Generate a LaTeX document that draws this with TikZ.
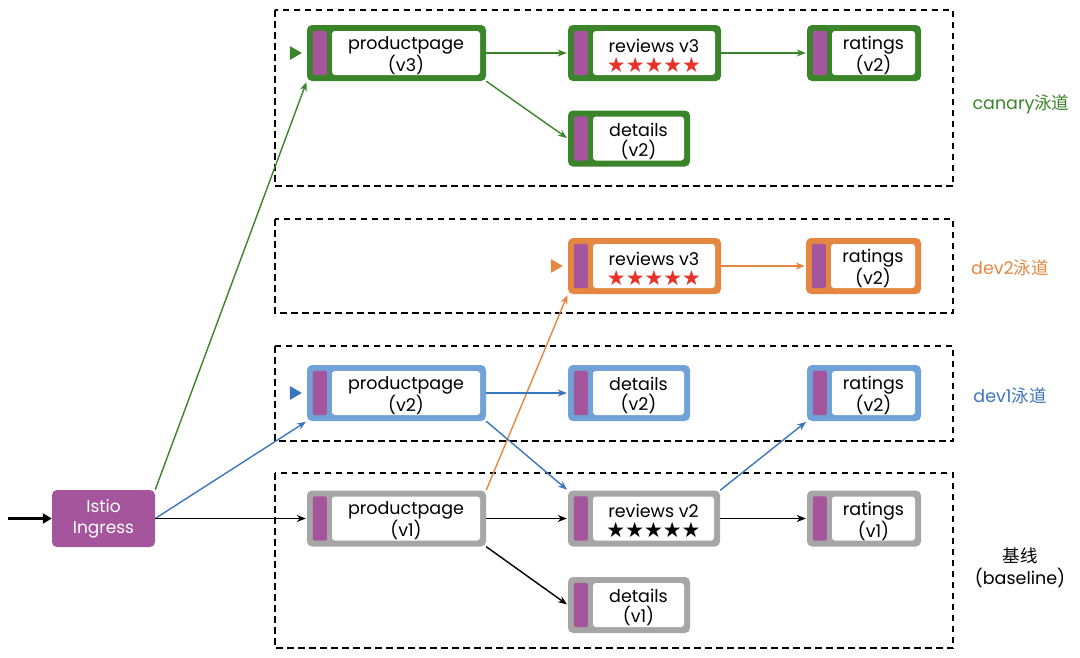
\documentclass[tikz,border=0pt]{standalone}
\usepackage{fontspec}
\setmainfont{Poppins}
\newfontfamily\cjk{Noto Sans CJK SC}
\newfontfamily\symfont{DejaVu Sans}
\usetikzlibrary{arrows.meta}

\definecolor{canarygreen}{RGB}{58,132,42}
\definecolor{devorange}{RGB}{230,135,65}
\definecolor{devblue}{RGB}{112,162,216}
\definecolor{arrowblue}{RGB}{58,118,190}
\definecolor{basegray}{RGB}{166,166,166}
\definecolor{barpurple}{RGB}{165,85,155}
\definecolor{starred}{RGB}{232,50,40}

\tikzset{
  lane/.style={draw=black, line width=1.4pt, dash pattern=on 6.5pt off 4.5pt},
  svcframe/.style={rounded corners=5pt, minimum height=56pt, inner sep=0pt},
  svcwhite/.style={fill=white, rounded corners=3pt, minimum height=44pt, inner sep=0pt},
  svctext/.style={inner sep=0pt, align=center, font=\fontsize{17.5}{20}\selectfont},
  flow/.style={line width=1.4pt, -{Stealth[length=9pt,width=7pt]}, shorten >=1pt},
  lanelabel/.style={font=\fontsize{17.5}{22}\selectfont, align=center},
}

% one service: name, centre, width, frame colour, text
\newcommand{\service}[5]{%
  \node[svcframe, fill=#4, minimum width=#3pt] (#1) at (#2) {};
  \fill[barpurple, rounded corners=1.5pt] ([shift={(6,6)}]#1.north west) rectangle ([shift={(20,-6)}]#1.south west);
  \node[svcwhite, minimum width=#3pt-31pt] (#1in) at ([shift={(9.5,0)}]#1.center) {};
  \node[svctext] (#1txt) at ([shift={(0,2.5)}]#1in.center) {#5};
}
\newcommand{\fivestars}[1]{{\symfont\fontsize{21}{20}\selectfont\color{#1}★★★★★}}
\newcommand{\entry}[2]{\fill[#2] ([shift={(-17,-7)}]#1.west) -- ++(12,7) -- ++(-12,7) -- cycle;}

\begin{document}
\begin{tikzpicture}[x=1pt,y=-1pt]
\useasboundingbox (0,0) rectangle (1080,657);

% lanes
\draw[lane] (275,10) rectangle (953,186);
\draw[lane] (275,219) rectangle (953,313);
\draw[lane] (275,346) rectangle (953,441);
\draw[lane] (275,473) rectangle (953,648);

% ingress
\node[fill=barpurple, rounded corners=5pt, minimum width=103pt, minimum height=57pt,
  inner sep=0pt, align=center, text=white, font=\fontsize{17}{21}\selectfont] (ingress) at (103.5,518.5) {Istio\\Ingress};
\coordinate (input) at (8,518.5);

% canary
\service{pp3}{396.5,53}{179}{canarygreen}{productpage\\(v3)}
\service{rv3c}{644.5,53}{153}{canarygreen}{reviews v3\\\fivestars{starred}}
\service{rt2c}{864,53}{114}{canarygreen}{ratings\\(v2)}
\service{dt2c}{629,138.5}{122}{canarygreen}{details\\(v2)}

% dev2
\service{rv3d}{644.5,266}{153}{devorange}{reviews v3\\\fivestars{starred}}
\service{rt2d}{863.5,266}{115}{devorange}{ratings\\(v2)}

% dev1
\service{pp2}{396.5,393}{179}{devblue}{productpage\\(v2)}
\service{dt2d}{629,393}{122}{devblue}{details\\(v2)}
\service{rt2e}{864,393}{114}{devblue}{ratings\\(v2)}

% baseline
\service{pp1}{396.5,518.5}{179}{basegray}{productpage\\(v1)}
\service{rv2}{644,518.5}{152}{basegray}{reviews v2\\\fivestars{black}}
\service{rt1}{864,518.5}{114}{basegray}{ratings\\(v1)}
\service{dt1}{629,605}{122}{basegray}{details\\(v1)}

% lane entries
\entry{pp3}{canarygreen}
\entry{rv3d}{devorange}
\entry{pp2}{arrowblue}

% flows
\draw[line width=3pt, -{Triangle[length=9pt,width=10pt]}] (input) -- (ingress);
\draw[flow, canarygreen] (ingress.north east) -- (pp3.south west);
\draw[flow, arrowblue] (ingress.east) -- (pp2.south west);
\draw[flow] (ingress.east) -- (pp1.west);

\draw[flow, canarygreen] (pp3.east) -- (rv3c.west);
\draw[flow, canarygreen] (pp3.south east) -- (dt2c.west);
\draw[flow, canarygreen] (rv3c.east) -- (rt2c.west);

\draw[flow, devorange] (rv3d.east) -- (rt2d.west);
\draw[flow, devorange] (pp1.north east) -- (rv3d.south west);

\draw[flow, arrowblue] (pp2.east) -- (dt2d.west);
\draw[flow, arrowblue] (pp2.south east) -- (rv2.north west);
\draw[flow, arrowblue] (rv2.north east) -- (rt2e.south west);

\draw[flow] (pp1.east) -- (rv2.west);
\draw[flow] (pp1.south east) -- (dt1.west);
\draw[flow] (rv2.east) -- (rt1.west);

% lane labels
\node[lanelabel, text=canarygreen] (canarylbl) at (1021,104) {canary{\cjk 泳道}};
\node[lanelabel, text=devorange] (dev2lbl) at (1010,268) {dev2{\cjk 泳道}};
\node[lanelabel, text=arrowblue] (dev1lbl) at (1010,396) {dev1{\cjk 泳道}};
\node[lanelabel] (baselbl) at (1020,568) {{\cjk 基线}\\({baseline})};

\end{tikzpicture}
\end{document}
